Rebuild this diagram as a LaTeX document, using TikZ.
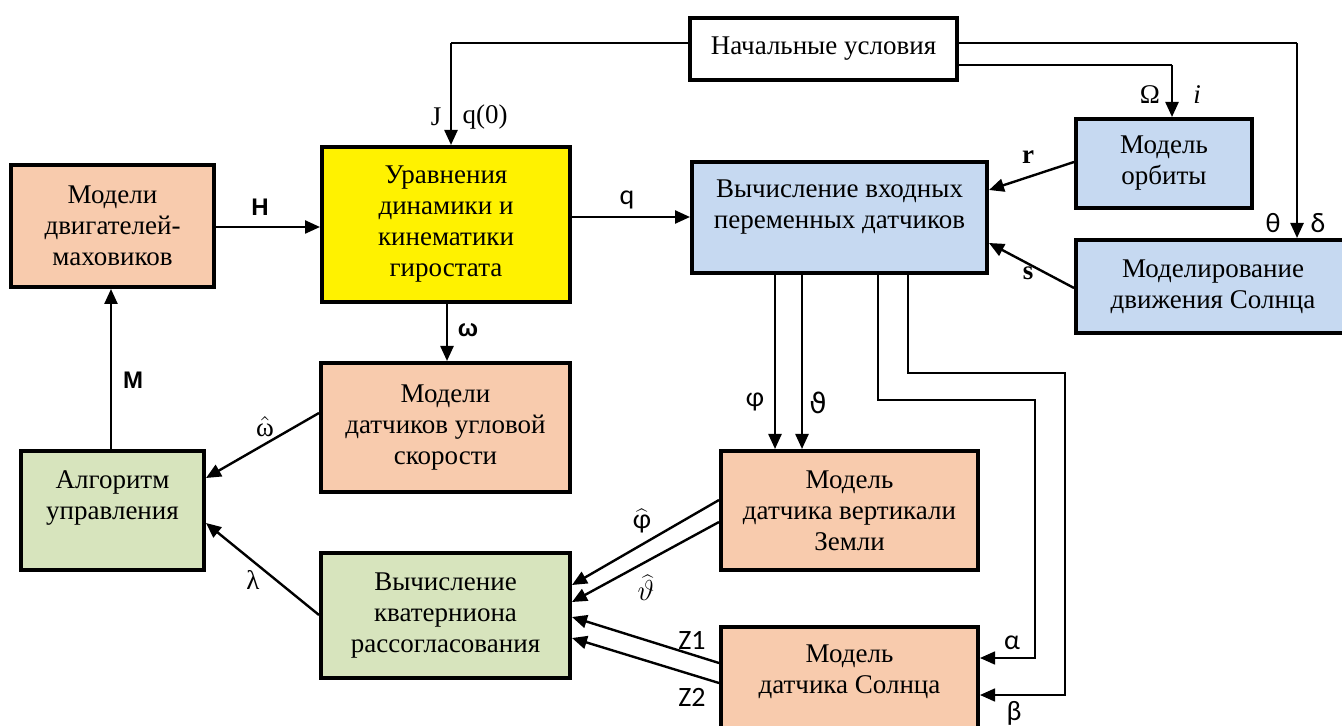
\documentclass[tikz,border=0pt]{standalone}
\usepackage{fontspec}
\setmainfont{Liberation Serif}
\newfontfamily\carl{Carlito}
\newfontfamily\arialb{Liberation Sans}
\newfontfamily\dejav{DejaVu Sans}
\usetikzlibrary{arrows.meta}
\definecolor{peach}{HTML}{F8CBAD}
\definecolor{lblue}{HTML}{C6D9F1}
\definecolor{lgreen}{HTML}{D7E4BD}
\begin{document}
\begin{tikzpicture}[x=0.5pt,y=-0.5pt,
  box/.style={draw,line width=2pt,inner sep=0pt,align=center,font=\fontsize{13.5}{15.5}\selectfont},
  txt/.style={inner sep=0pt,align=center,font=\fontsize{13.5}{15.5}\selectfont},
  arr/.style={line width=1.2pt,-{Triangle[length=7.5pt,width=6.5pt]}},
  thinarr/.style={line width=0.8pt,-{Triangle[length=7.5pt,width=6.5pt]}},
  thinl/.style={line width=0.8pt},
  lab/.style={inner sep=0pt,font=\fontsize{14}{16}\selectfont\carl},
  slab/.style={inner sep=0pt,font=\fontsize{13.5}{16}\selectfont},
  blab/.style={inner sep=0pt,font=\fontsize{12}{14}\selectfont\arialb\bfseries}]
\useasboundingbox (0,0) rectangle (1342,726);

% boxes
\node[box,minimum width=133.5pt,minimum height=31pt] (init) at (823.5,49) {Начальные условия};
\node[box,fill=peach,minimum width=101.5pt,minimum height=61pt] (motors) at (112.5,226) {Модели\\двигателей-\\маховиков};
\node[box,fill=yellow,minimum width=124pt,minimum height=77.5pt] (dyn) at (446,224.5) {Уравнения\\динамики и\\кинематики\\гиростата};
\node[box,fill=lblue,minimum width=147.5pt,minimum height=55.5pt] (calc) at (839.5,217.5) {};
\node[txt] (calctext) at (839.5,207) {Вычисление входных\\переменных датчиков};
\node[box,fill=lblue,minimum width=88pt,minimum height=44.5pt] (orbit) at (1164,163.5) {Модель\\орбиты};
\node[box,fill=lblue,minimum width=137pt,minimum height=46.5pt] (sunmov) at (1213,286.5) {Моделирование\\движения Солнца};
\node[box,fill=peach,minimum width=124.5pt,minimum height=64.5pt] (gyro) at (445.5,427.5) {Модели\\датчиков угловой\\скорости};
\node[box,fill=lgreen,minimum width=91.5pt,minimum height=59.5pt] (algo) at (112.5,510.5) {};
\node[txt] (algotext) at (112.5,498) {Алгоритм\\управления};
\node[box,fill=lgreen,minimum width=124.5pt,minimum height=62.5pt] (quat) at (445.5,615.5) {Вычисление\\кватерниона\\рассогласования};
\node[box,fill=peach,minimum width=128.5pt,minimum height=59.5pt] (vert) at (849.5,510.5) {Модель\\датчика вертикали\\Земли};
\node[box,fill=peach,minimum width=128.5pt,minimum height=60pt] (sunsens) at (849.5,687) {};
\node[txt] (sunsenstext) at (849.5,672) {Модель\\датчика Солнца};

% connectors from initial conditions
\coordinate (c1) at (451,43);
\draw[thinl] (init.west |- c1) -- (c1);
\draw[arr] (c1) -- (c1 |- dyn.north);
\coordinate (c2) at (1297,43);
\draw[thinl] (init.east |- c2) -- (c2);
\draw[arr] (c2) -- (c2 |- sunmov.north);
\coordinate (c3) at (1172,65);
\draw[thinl] (init.east |- c3) -- (c3);
\draw[arr] (c3) -- (c3 |- orbit.north);

% main connectors
\draw[arr] (motors.east |- 0,227) -- (dyn.west |- 0,227);
\draw[arr] (dyn.east |- 0,217) -- (calc.west |- 0,217);
\draw[arr] (dyn.south -| 447,0) -- (gyro.north -| 447,0);
\draw[arr] (gyro.west |- 0,413) -- (algo.east |- 0,478);
\draw[arr] (algo.north -| 111,0) -- (motors.south -| 111,0);
\draw[arr] (quat.west |- 0,615) -- (algo.east |- 0,523);
\draw[arr] (orbit.west |- 0,162) -- (calc.east |- 0,190);
\draw[arr] (sunmov.west |- 0,288) -- (calc.east |- 0,243);
\draw[arr] (calc.south -| 775,0) -- (vert.north -| 775,0);
\draw[arr] (calc.south -| 802,0) -- (vert.north -| 802,0);
\draw[thinarr] (calc.south -| 878,0) |- (1035,400) |- (sunsens.east |- 0,658);
\draw[thinarr] (calc.south -| 908,0) |- (1065,373) |- (sunsens.east |- 0,695);
\draw[arr] (vert.west |- 0,500) -- (quat.east |- 0,585);
\draw[arr] (vert.west |- 0,522) -- (quat.east |- 0,602);
\draw[arr] (sunsens.west |- 0,663) -- (quat.east |- 0,617);
\draw[arr] (sunsens.west |- 0,683) -- (quat.east |- 0,638);

% labels
\node[slab] (lJ) at (436,117) {J};
\node[slab] (lq0) at (485,117) {q(0)};
\node[slab] (lOm) at (1150,95) {Ω};
\node[slab] (li) at (1197,95) {\itshape i};
\node[lab] (lth) at (1273,223) {θ};
\node[lab] (lde) at (1318,223) {δ};
\node[blab] (lH) at (260,207) {H};
\node[lab] (lq) at (627,200) {q};
\node[slab] (lr) at (1028,157) {\bfseries r};
\node[slab] (ls) at (1028,273) {\bfseries s};
\node[blab] (lw) at (468,330) {ω};
\node[blab] (lM) at (133,380) {M};
\node[slab] (lwh) at (265,427) {$\hat{\hbox{ω}}$};
\node[slab] (lla) at (253,580) {λ};
\node[lab] (lphi) at (755,402) {φ};
\node[lab] (lvth) at (818,403) {\dejav ϑ};
\node[lab] (lal) at (1012,643) {α};
\node[lab] (lbe) at (1014,713) {β};
\node[lab] (lphih) at (642,521) {$\widehat{\hbox{\carl φ}}$};
\node[lab] (lvthh) at (646,588) {$\widehat{\vartheta}$};
\node[lab] (lz1) at (692,640) {Z1};
\node[lab] (lz2) at (692,697) {Z2};
\end{tikzpicture}
\end{document}
